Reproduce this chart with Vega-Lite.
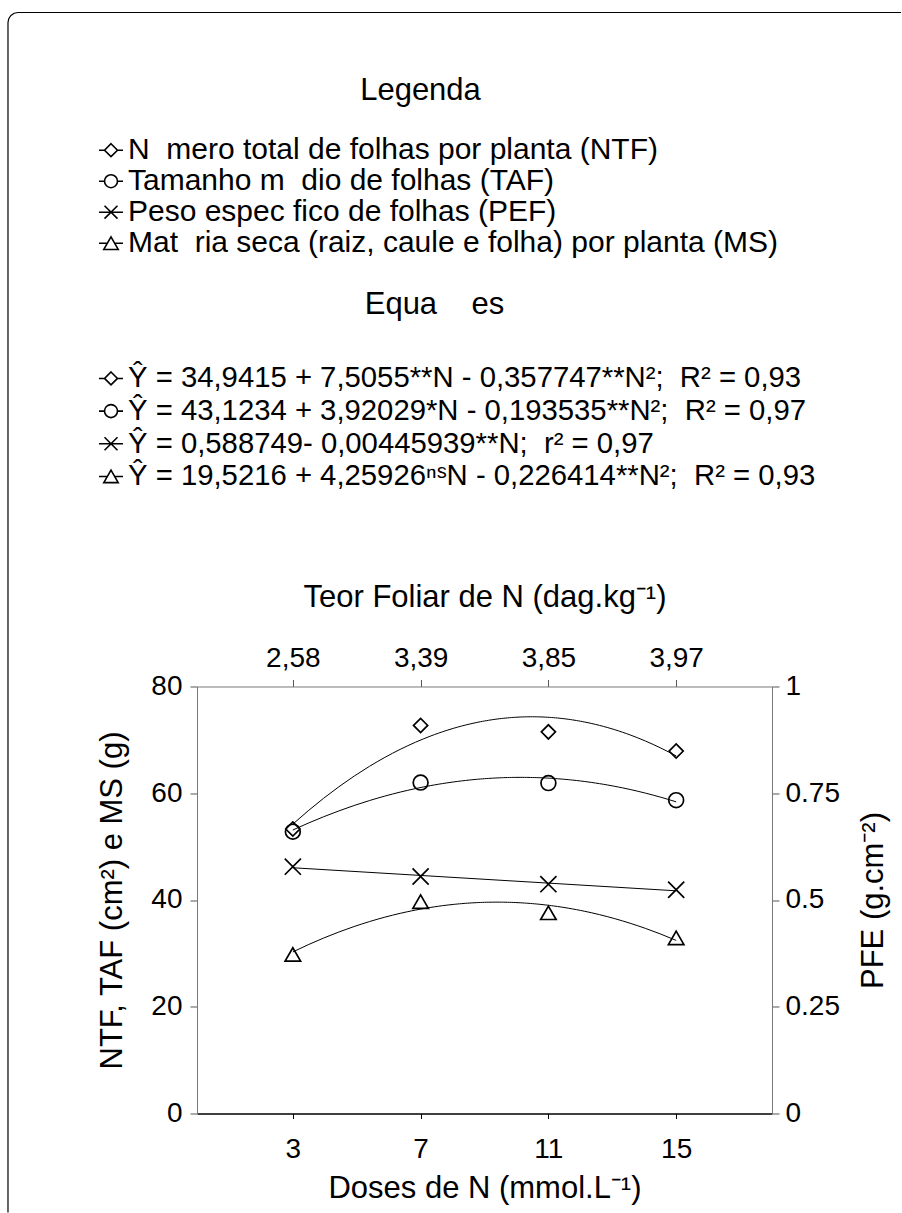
{
  "$schema": "https://vega.github.io/schema/vega-lite/v6.json",
  "background": "white",
  "padding": {"left": 5, "top": 9.7, "right": 0, "bottom": 0},
  "bounds": "flush",
  "center": true,
  "spacing": 103.4,
  "config": {
    "font": "Liberation Sans",
    "view": {"stroke": null},
    "axis": {"grid": false, "labelFontSize": 28, "titleFontSize": 31, "titleFontWeight": "normal", "labelColor": "black", "titleColor": "black", "domainColor": "#777777", "tickColor": "#555555", "tickSize": 7, "labelFont": "Liberation Sans", "titleFont": "Liberation Sans", "labelOverlap": false},
    "text": {"color": "black"}
  },
  "datasets": {
    "main": [
      {"dose": 3, "teor": "2,58", "NTF": 53.3, "TAF": 52.8, "PEF": 0.578, "MS": 29.8},
      {"dose": 7, "teor": "3,39", "NTF": 72.7, "TAF": 62.0, "PEF": 0.555, "MS": 39.7},
      {"dose": 11, "teor": "3,85", "NTF": 71.5, "TAF": 61.9, "PEF": 0.537, "MS": 37.6},
      {"dose": 15, "teor": "3,97", "NTF": 67.9, "TAF": 58.7, "PEF": 0.524, "MS": 32.9}
    ],
    "legend": [
      {"series": "NTF", "label": "N\u00a0\u00a0mero total de folhas por planta (NTF)", "eq": "\u0176 = 34,9415 + 7,5055**N - 0,357747**N\u00b2;\u00a0 R\u00b2 = 0,93"},
      {"series": "TAF", "label": "Tamanho m\u00a0\u00a0dio de folhas (TAF)", "eq": "\u0176 = 43,1234 + 3,92029*N - 0,193535**N\u00b2;\u00a0 R\u00b2 = 0,97"},
      {"series": "PEF", "label": "Peso espec\u00a0fico de folhas (PEF)", "eq": "\u0176 = 0,588749- 0,00445939**N;\u00a0 r\u00b2 = 0,97"},
      {"series": "MS", "label": "Mat\u00a0\u00a0ria seca (raiz, caule e folha) por planta (MS)", "eq": "\u0176 = 19,5216 + 4,25926\u207f\u02e2N - 0,226414**N\u00b2;\u00a0 R\u00b2 = 0,93"}
    ],
    "border": [
      {"bx": -5.917, "by": -18.55, "k": 0},
      {"bx": -5.917, "by": 204.41, "k": 1},
      {"bx": -5.893, "by": 205.12, "k": 2},
      {"bx": -5.825, "by": 205.73, "k": 3},
      {"bx": -5.724, "by": 206.14, "k": 4},
      {"bx": -5.604, "by": 206.28, "k": 5},
      {"bx": 22.04, "by": 206.28, "k": 6}
    ]
  },
  "vconcat": [
    {
      "width": 747,
      "height": {"step": 31},
      "data": {"name": "legend"},
      "title": {"text": "Legenda", "anchor": "middle", "dx": -64, "offset": 4, "baseline": "alphabetic", "fontSize": 31, "fontWeight": "normal", "font": "Liberation Sans", "color": "black", "frame": "group"},
      "encoding": {
        "x": {"datum": 0, "type": "quantitative", "scale": {"domain": [0, 1]}, "axis": null},
        "y": {"field": "series", "type": "nominal", "sort": null, "axis": null}
      },
      "layer": [
        {
          "mark": {"type": "point", "filled": false, "color": "black", "strokeWidth": 1.6, "size": 576, "opacity": 1},
          "encoding": {
            "shape": {"field": "series", "type": "nominal", "legend": null, "scale": {"domain": ["NTF", "TAF", "PEF", "MS"], "range": [
              "M-1,0L-0.54,0M0,-0.54L0.54,0L0,0.54L-0.54,0ZM0.54,0L1,0",
              "M-1,0L-0.54,0M0.54,0L1,0M0.54,0A0.54,0.54,0,1,1,-0.54,0A0.54,0.54,0,1,1,0.54,0",
              "M-1,0L1,0M-0.54,-0.54L0.54,0.54M-0.54,0.54L0.54,-0.54",
              "M-1,0L-0.3,0M0,-0.52L0.6,0.52L-0.6,0.52ZM0.3,0L1,0"
            ]}}
          }
        },
        {
          "mark": {"type": "text", "align": "left", "baseline": "middle", "dx": 17, "fontSize": 30, "font": "Liberation Sans"},
          "encoding": {"text": {"field": "label"}}
        }
      ]
    },
    {
      "width": 747,
      "height": 220.5,
      "data": {"name": "legend"},
      "title": {"text": "Equa\u00a0\u00a0\u00a0\u00a0es", "anchor": "middle", "dx": -50, "offset": 17, "baseline": "alphabetic", "fontSize": 31, "fontWeight": "normal", "font": "Liberation Sans", "color": "black", "frame": "group"},
      "encoding": {
        "x": {"datum": 0, "type": "quantitative", "scale": {"domain": [0, 1]}, "axis": null},
        "y": {"field": "series", "type": "nominal", "sort": null, "axis": null, "scale": {"range": [0, 130.67], "padding": 0.5}}
      },
      "layer": [
        {
          "mark": {"type": "point", "filled": false, "color": "black", "strokeWidth": 1.6, "size": 576, "opacity": 1},
          "encoding": {
            "shape": {"field": "series", "type": "nominal", "legend": null, "scale": {"domain": ["NTF", "TAF", "PEF", "MS"], "range": [
              "M-1,0L-0.54,0M0,-0.54L0.54,0L0,0.54L-0.54,0ZM0.54,0L1,0",
              "M-1,0L-0.54,0M0.54,0L1,0M0.54,0A0.54,0.54,0,1,1,-0.54,0A0.54,0.54,0,1,1,0.54,0",
              "M-1,0L1,0M-0.54,-0.54L0.54,0.54M-0.54,0.54L0.54,-0.54",
              "M-1,0L-0.3,0M0,-0.52L0.6,0.52L-0.6,0.52ZM0.3,0L1,0"
            ]}}
          }
        },
        {
          "mark": {"type": "text", "align": "left", "baseline": "middle", "dx": 17, "fontSize": 29.3, "font": "Liberation Sans"},
          "encoding": {"text": {"field": "eq"}}
        }
      ]
    },
    {
      "width": 575,
      "height": 427,
      "data": {"name": "main"},
      "resolve": {"scale": {"x": "independent", "y": "independent"}},
      "layer": [
        {
          "transform": [{"fold": ["NTF", "TAF", "MS"], "as": ["series", "value"]}],
          "encoding": {
            "x": {"field": "dose", "type": "quantitative", "scale": {"domain": [0, 18]}, "axis": {"values": [3, 7, 11, 15], "title": "Doses de N (mmol.L\u207b\u00b9)", "domainColor": "black", "domainWidth": 1.5, "tickColor": "black", "tickSize": 5, "labelPadding": 17, "titlePadding": 10}},
            "y": {"field": "value", "type": "quantitative", "scale": {"domain": [0, 80]}, "axis": {"values": [0, 20, 40, 60, 80], "title": "NTF, TAF (cm\u00b2) e MS (g)", "labelPadding": 8, "titlePadding": 22}}
          },
          "layer": [
            {
              "transform": [{"regression": "value", "on": "dose", "groupby": ["series"], "method": "poly", "order": 2, "extent": [3, 15]}],
              "mark": {"type": "line", "color": "black", "strokeWidth": 1},
              "encoding": {"detail": {"field": "series", "type": "nominal"}}
            },
            {
              "transform": [{"filter": {"field": "series", "equal": "NTF"}}],
              "mark": {"type": "point", "shape": "diamond", "filled": false, "color": "black", "strokeWidth": 1.7, "size": 200, "opacity": 1}
            },
            {
              "transform": [{"filter": {"field": "series", "equal": "TAF"}}],
              "mark": {"type": "point", "shape": "circle", "filled": false, "color": "black", "strokeWidth": 1.7, "size": 220, "opacity": 1}
            },
            {
              "transform": [{"filter": {"field": "series", "equal": "MS"}}],
              "mark": {"type": "point", "shape": "triangle-up", "filled": false, "color": "black", "strokeWidth": 1.7, "size": 240, "opacity": 1}
            }
          ]
        },
        {
          "encoding": {
            "x": {"field": "dose", "type": "quantitative", "scale": {"domain": [0, 18]}, "axis": null},
            "y": {"field": "PEF", "type": "quantitative", "scale": {"domain": [0, 1]}, "axis": {"orient": "right", "values": [0, 0.25, 0.5, 0.75, 1], "format": ".2~f", "title": "PFE (g.cm\u207b\u00b2)", "titleAngle": 270, "titleBaseline": "top", "labelPadding": 6, "titlePadding": 19}}
          },
          "layer": [
            {
              "transform": [{"regression": "PEF", "on": "dose", "method": "linear", "extent": [3, 15]}],
              "mark": {"type": "line", "color": "black", "strokeWidth": 1}
            },
            {
              "mark": {"type": "point", "shape": "M-1,-1L1,1M-1,1L1,-1", "filled": false, "color": "black", "strokeWidth": 1.7, "size": 260, "opacity": 1}
            }
          ]
        },
        {
          "mark": {"type": "point", "opacity": 0},
          "encoding": {
            "x": {"field": "teor", "type": "ordinal", "sort": null, "scale": {"type": "point", "padding": 0.75}, "axis": {"orient": "top", "title": "Teor Foliar de N (dag.kg\u207b\u00b9)", "labelAngle": 0, "labelPadding": 7, "titlePadding": 31}}
          }
        },
        {
          "data": {"name": "border"},
          "mark": {"type": "line", "color": "black", "strokeWidth": 1.2},
          "encoding": {
            "x": {"field": "bx", "type": "quantitative", "scale": {"domain": [0, 18]}, "axis": null},
            "y": {"field": "by", "type": "quantitative", "scale": {"domain": [0, 80]}, "axis": null},
            "order": {"field": "k", "type": "quantitative"}
          }
        }
      ]
    }
  ]
}
